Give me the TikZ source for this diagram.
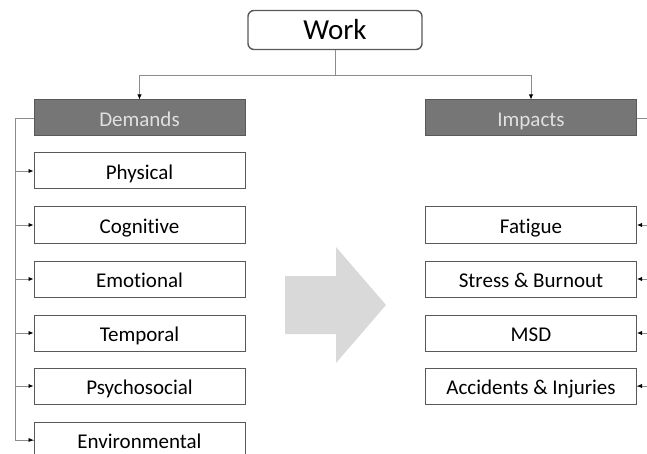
\documentclass[tikz,border=0pt]{standalone}
\usepackage{fontspec}
\setmainfont[Ligatures=NoCommon]{Carlito}
\usepackage{xcolor}
\usetikzlibrary{arrows.meta}

\definecolor{edgegray}{HTML}{595959}
\definecolor{linegray}{HTML}{8C8C8C}
\definecolor{headfill}{HTML}{767676}
\definecolor{bigarrow}{HTML}{D9D9D9}

\tikzset{
  itembox/.style={draw=edgegray, line width=1pt, fill=white, minimum width=211pt,
    minimum height=36pt, inner sep=0pt, text height=17pt, text depth=0pt,
    font=\fontsize{21}{25}\selectfont},
  headbox/.style={itembox, fill=headfill, text=white!88!black},
  link/.style={draw=linegray, line width=0.9pt},
  linkarrow/.style={link, -{Latex[length=5pt,width=4.5pt,black]}}
}

\begin{document}
\begin{tikzpicture}[x=1pt, y=-1pt]
	\useasboundingbox (0,0) rectangle (647,454);
	% top node
	\node[draw=edgegray, line width=1.4pt, rounded corners=6pt, fill=white,
		minimum width=174pt, minimum height=39pt, inner sep=0pt,
		text height=20pt, text depth=0pt,
		font=\fontsize{29}{33}\selectfont] (work) at (335,30) {Work};
	% the two branches
	\node[headbox] (dem) at (139.5,118) {Demands};
	\node[headbox] (imp) at (531,118) {Impacts};
	% demands
	\node[itembox] (phy) at (139.5,171) {Physical};
	\node[itembox] (cog) at (139.5,225) {Cognitive};
	\node[itembox] (emo) at (139.5,279) {Emotional};
	\node[itembox] (tem) at (139.5,333) {Temporal};
	\node[itembox] (psy) at (139.5,386) {Psychosocial};
	\node[itembox] (env) at (139.5,440) {Environmental};
	% impacts
	\node[itembox] (fat) at (531,225) {Fatigue};
	\node[itembox] (str) at (531,279) {Stress \& Burnout};
	\node[itembox] (msd) at (531,333) {MSD};
	\node[itembox] (acc) at (531,386) {Accidents \& Injuries};
	% tree lines
	\coordinate (split) at (335,75);
	\draw[link] (work.south) -- (split);
	\draw[linkarrow] (split) -| (dem.north);
	\draw[linkarrow] (split) -| (imp.north);
	\coordinate (lspine) at (15,118);
	\coordinate (rspine) at (652,118);
	\draw[link] (dem.west) -- (lspine) |- (env.west);
	\draw[link] (imp.east) -- (rspine) |- (acc.east);
	\draw[linkarrow] (lspine |- phy.west) -- (phy.west);
	\draw[linkarrow] (lspine |- cog.west) -- (cog.west);
	\draw[linkarrow] (lspine |- emo.west) -- (emo.west);
	\draw[linkarrow] (lspine |- tem.west) -- (tem.west);
	\draw[linkarrow] (lspine |- psy.west) -- (psy.west);
	\draw[linkarrow] (lspine |- env.west) -- (env.west);
	\draw[linkarrow] (rspine |- fat.east) -- (fat.east);
	\draw[linkarrow] (rspine |- str.east) -- (str.east);
	\draw[linkarrow] (rspine |- msd.east) -- (msd.east);
	\draw[linkarrow] (rspine |- acc.east) -- (acc.east);
	% big arrow in the middle
	\fill[bigarrow] (285,276) -- (336,276) -- (336,247) -- (386,305)
		-- (336,363) -- (336,334) -- (285,334) -- cycle;
\end{tikzpicture}
\end{document}
